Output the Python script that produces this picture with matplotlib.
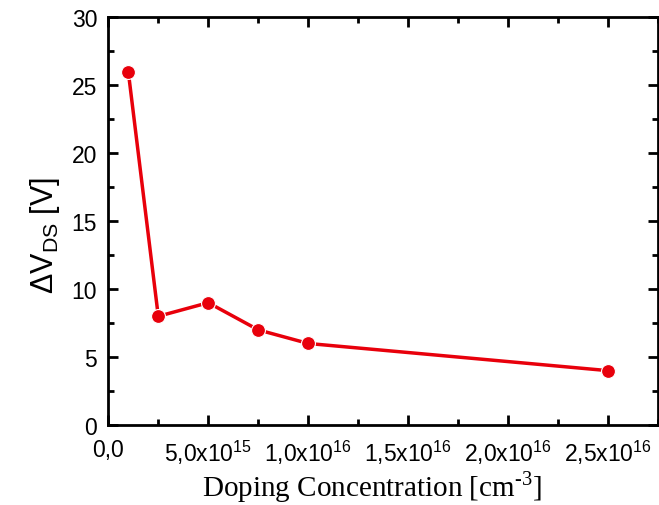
import matplotlib
matplotlib.use("Agg")
import matplotlib.pyplot as plt
from matplotlib.ticker import MultipleLocator, FixedLocator

# doping level of the drift region and the resulting shift of V_DS
doping = [1.0e15, 2.5e15, 5.0e15, 7.5e15, 1.0e16, 2.5e16]
deltaVds = [26, 8, 9, 7, 6, 4]

xTicks = [0.0, 5.0e15, 1.0e16, 1.5e16, 2.0e16, 2.5e16]
xTickLabels = ["0,0",
               r"5,0x10$^{\mathregular{15}}$",
               r"1,0x10$^{\mathregular{16}}$",
               r"1,5x10$^{\mathregular{16}}$",
               r"2,0x10$^{\mathregular{16}}$",
               r"2,5x10$^{\mathregular{16}}$"]

plt.rcParams["font.family"] = ["Liberation Sans", "DejaVu Sans"]

fig = plt.figure(figsize=(6.59, 5.06), dpi=100)
ax = fig.add_axes([0.1643, 0.158, 0.8347, 0.806])

ax.plot(doping, deltaVds, color="#e8000b", linewidth=2.5, marker="o",
        markersize=10, markerfacecolor="#e8000b", markeredgecolor="white",
        markeredgewidth=0.8)

ax.set_xlim(0, 2.75e16)
ax.set_ylim(0, 30)

ax.xaxis.set_major_locator(FixedLocator(xTicks))
ax.xaxis.set_minor_locator(MultipleLocator(2.5e15))
ax.set_xticklabels(xTickLabels)
ax.yaxis.set_major_locator(MultipleLocator(5))
ax.yaxis.set_minor_locator(MultipleLocator(2.5))

ax.tick_params(which="both", direction="in", top=True, right=True, width=2,
               labelsize=16.5, colors="black")
ax.tick_params(which="major", length=7, pad=8)
ax.tick_params(which="minor", length=4)
ax.tick_params(axis="x", pad=9)

for spine in ax.spines.values():
    spine.set_linewidth(2)

ax.set_ylabel(r"$\mathregular{\Delta V_{DS}}$ [V]", fontsize=22)
ax.yaxis.set_label_coords(-0.085, 0.467)
ax.set_xlabel("Doping Concentration [cm$^{\\mathregular{\u2010 3}}$]",
              family="Liberation Serif", fontsize=21)
ax.xaxis.set_label_coords(0.48, -0.105)

fig.savefig("out.png", dpi=100)
